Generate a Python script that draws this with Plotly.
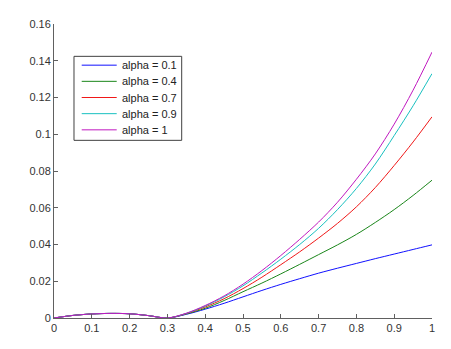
import plotly.graph_objects as go

x = [0, 0.05, 0.1, 0.15, 0.2, 0.25, 0.3, 0.35, 0.4, 0.45, 0.5, 0.55, 0.6, 0.65,
     0.7, 0.75, 0.8, 0.85, 0.9, 0.95, 1.0]
hump = [0, 0.0014, 0.0022, 0.0025, 0.0023, 0.0013, 0]
blue = hump + [0.0020, 0.0048, 0.0080, 0.0115, 0.0150, 0.0183, 0.0214, 0.0244,
               0.0271, 0.0297, 0.0323, 0.0348, 0.0373, 0.0398]
green = hump + [0.0022, 0.0053, 0.0095, 0.0143, 0.0190, 0.0240, 0.0292, 0.0345,
                0.0398, 0.0455, 0.0520, 0.0590, 0.0667, 0.0750]
red = hump + [0.0024, 0.0060, 0.0105, 0.0160, 0.0222, 0.0290, 0.0360, 0.0435,
              0.0515, 0.0605, 0.0710, 0.0830, 0.0958, 0.1095]
cyan = hump + [0.0025, 0.0065, 0.0115, 0.0175, 0.0245, 0.0320, 0.0400, 0.0488,
               0.0590, 0.0705, 0.0838, 0.0993, 0.1155, 0.1330]
magenta = hump + [0.0026, 0.0068, 0.0120, 0.0184, 0.0258, 0.0340, 0.0428, 0.0522,
                  0.0630, 0.0755, 0.0893, 0.1055, 0.1240, 0.1447]

names = ["alpha = 0.1", "alpha = 0.4", "alpha = 0.7", "alpha = 0.9", "alpha = 1"]
series = [blue, green, red, cyan, magenta]
colors = ["#1010ff", "#1a861a", "#f01818", "#18c0c0", "#c018c0"]

xticks = [0, 0.1, 0.2, 0.3, 0.4, 0.5, 0.6, 0.7, 0.8, 0.9, 1]
xticklabels = ["0", "0.1", "0.2", "0.3", "0.4", "0.5", "0.6", "0.7", "0.8", "0.9", "1"]
yticks = [0, 0.02, 0.04, 0.06, 0.08, 0.1, 0.12, 0.14, 0.16]
yticklabels = ["0", "0.02", "0.04", "0.06", "0.08", "0.1", "0.12", "0.14", "0.16"]

fig = go.Figure()
for n, s, c in zip(names, series, colors):
    fig.add_trace(go.Scatter(x=x, y=s, mode="lines", name=n, showlegend=False,
                             line=dict(color=c, width=1, shape="spline", smoothing=0.9)))

font_family = "Liberation Sans, Arial, sans-serif"
axis_common = dict(showgrid=False, zeroline=False, showline=True, linecolor="#606060",
                   linewidth=1, ticks="inside", ticklen=4, tickcolor="#606060",
                   tickfont=dict(family=font_family, size=11, color="#333333"))

# Legend box (MATLAB style), drawn in plot-area paper coordinates
leg_x0, leg_x1, leg_y0, leg_y1 = 0.0529, 0.3378, 0.6043, 0.89
row_y = [0.86, 0.805, 0.75, 0.695, 0.64]
shapes = [dict(type="rect", xref="paper", yref="paper", x0=leg_x0, x1=leg_x1,
               y0=leg_y0, y1=leg_y1, line=dict(color="#404040", width=1),
               fillcolor="white", layer="above")]
annotations = []
for n, c, yy in zip(names, colors, row_y):
    shapes.append(dict(type="line", xref="paper", yref="paper", x0=0.0733, x1=0.1659,
                       y0=yy, y1=yy, line=dict(color=c, width=1), layer="above"))
    annotations.append(dict(xref="paper", yref="paper", x=0.1746, y=yy, text=n,
                            showarrow=False, xanchor="left", yanchor="middle",
                            font=dict(family=font_family, size=11, color="#222222")))

fig.update_layout(
    width=443, height=341,
    margin=dict(l=46, r=19, t=10, b=31),
    paper_bgcolor="white", plot_bgcolor="white",
    xaxis=dict(range=[0, 1], tickvals=xticks, ticktext=xticklabels, **axis_common),
    yaxis=dict(range=[0, 0.16], tickvals=yticks, ticktext=yticklabels, **axis_common),
    shapes=shapes, annotations=annotations,
    showlegend=False,
)

fig.write_html("out.html")
